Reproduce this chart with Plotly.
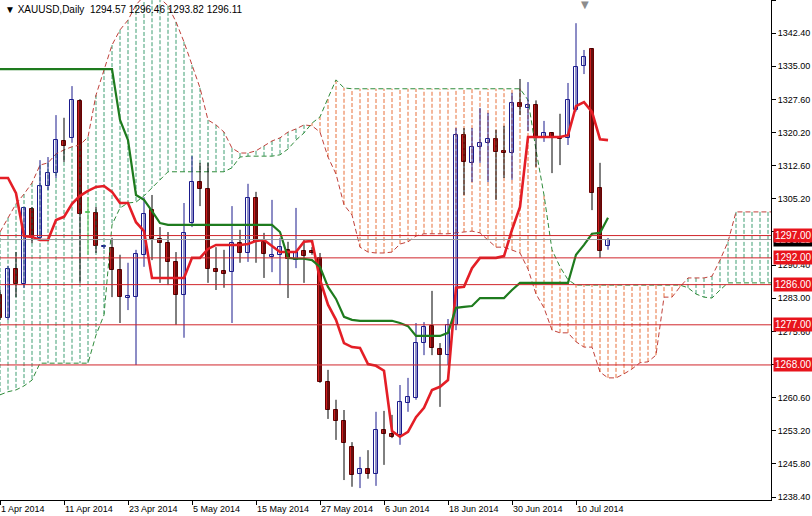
import plotly.graph_objects as go

# ---------------- data ----------------
date_labels = ["1 Apr 2014", "11 Apr 2014", "23 Apr 2014", "5 May 2014", "15 May 2014",
               "27 May 2014", "6 Jun 2014", "18 Jun 2014", "30 Jun 2014", "10 Jul 2014"]
date_bars = [0, 8, 16, 24, 32, 40, 48, 56, 64, 72]

opens = [1283.7, 1278.5, 1289.5, 1286.2, 1303.0, 1296.5, 1308.1, 1311.0, 1318.2, 1318.9,
         1327.2, 1302.1, 1302.1, 1294.4, 1294.2, 1289.3, 1283.1, 1283.2, 1292.7, 1302.7,
         1296.2, 1295.3, 1291.1, 1283.7, 1299.8, 1309.0, 1307.4, 1289.5, 1289.1, 1288.8,
         1295.3, 1293.1, 1305.4, 1295.6, 1292.3, 1292.7, 1293.8, 1291.5, 1293.6, 1293.6,
         1292.0, 1264.2, 1257.9, 1255.5, 1249.6, 1243.6, 1244.7, 1243.6, 1253.4, 1252.5,
         1252.3, 1259.5, 1260.6, 1272.9, 1276.7, 1271.6, 1270.2, 1277.0, 1319.5, 1313.3,
         1316.9, 1317.8, 1318.6, 1316.0, 1315.5, 1326.7, 1325.6, 1326.3, 1319.1, 1320.0,
         1319.2, 1318.9, 1325.2, 1335.0, 1338.8, 1307.7, 1294.57]
highs = [1284.8, 1290.2, 1293.3, 1303.4, 1303.4, 1313.9, 1314.6, 1324.0, 1323.4, 1330.5,
         1327.6, 1305.6, 1303.4, 1294.9, 1296.5, 1292.7, 1290.9, 1293.8, 1305.6, 1306.1,
         1298.9, 1297.8, 1293.3, 1304.3, 1314.8, 1313.3, 1313.3, 1294.4, 1293.8, 1303.6,
         1298.3, 1308.6, 1306.8, 1297.6, 1305.0, 1296.5, 1295.6, 1303.2, 1296.0, 1294.4,
         1293.1, 1266.9, 1260.2, 1257.9, 1250.7, 1247.4, 1248.9, 1257.5, 1257.7, 1256.8,
         1263.5, 1265.1, 1277.4, 1277.6, 1284.6, 1272.9, 1278.3, 1321.1, 1321.1, 1321.1,
         1325.6, 1324.5, 1320.7, 1321.6, 1329.0, 1332.1, 1331.4, 1327.3, 1322.7, 1320.2,
         1324.3, 1331.2, 1344.6, 1338.6, 1339.0, 1313.3, 1296.46]
lows = [1278.1, 1278.1, 1283.2, 1285.3, 1295.3, 1295.8, 1307.2, 1309.9, 1313.5, 1317.8,
        1286.4, 1292.7, 1293.1, 1294.0, 1283.2, 1277.4, 1280.3, 1268.0, 1290.0, 1291.5,
        1286.4, 1285.9, 1277.0, 1274.1, 1298.9, 1303.6, 1286.4, 1284.8, 1285.3, 1277.4,
        1290.9, 1291.1, 1290.9, 1287.5, 1288.8, 1285.9, 1283.0, 1289.7, 1286.4, 1292.7,
        1264.0, 1255.9, 1251.2, 1242.2, 1240.7, 1240.4, 1242.5, 1240.9, 1245.6, 1251.6,
        1250.1, 1257.5, 1260.2, 1270.2, 1270.2, 1258.6, 1268.0, 1275.8, 1306.1, 1309.0,
        1313.3, 1309.0, 1305.0, 1309.9, 1309.5, 1324.0, 1320.4, 1312.4, 1318.0, 1311.0,
        1312.8, 1317.3, 1324.8, 1333.2, 1302.7, 1292.0, 1293.82]
closes = [1278.5, 1289.5, 1286.2, 1303.2, 1296.7, 1308.1, 1311.0, 1318.4, 1317.1, 1327.4,
          1301.8, 1302.1, 1294.7, 1294.7, 1289.3, 1283.2, 1283.4, 1292.9, 1301.8, 1296.2,
          1295.3, 1291.1, 1283.7, 1297.6, 1309.0, 1307.4, 1289.5, 1288.8, 1288.4, 1295.3,
          1293.1, 1305.4, 1295.6, 1292.9, 1292.5, 1294.4, 1291.8, 1293.3, 1292.4, 1293.1,
          1264.2, 1257.9, 1255.5, 1250.5, 1243.4, 1244.7, 1243.6, 1253.4, 1252.5, 1251.9,
          1259.7, 1260.8, 1272.9, 1276.5, 1271.8, 1270.2, 1277.0, 1319.5, 1313.5, 1316.9,
          1317.8, 1318.6, 1315.7, 1315.5, 1326.7, 1325.8, 1326.3, 1319.1, 1320.0, 1319.1,
          1318.6, 1327.4, 1334.8, 1337.0, 1306.5, 1293.6, 1296.11]

tenkan = [1309.9, 1309.9, 1306.5, 1296.9, 1296.7, 1296.0, 1296.0, 1300.5, 1301.2, 1304.1,
          1305.9, 1307.0, 1307.9, 1308.1, 1306.8, 1304.3, 1304.3, 1300.0, 1298.0, 1287.5,
          1287.5, 1287.5, 1287.5, 1287.5, 1292.0, 1292.0, 1294.0, 1294.9, 1294.9, 1294.9,
          1294.9, 1295.1, 1295.8, 1296.0, 1294.7, 1293.3, 1293.3, 1293.3, 1295.6, 1295.8,
          1287.1, 1281.5, 1278.1, 1272.9, 1272.0, 1271.8, 1268.2, 1267.8, 1266.7, 1253.2,
          1251.9, 1253.0, 1256.3, 1258.4, 1262.4, 1263.1, 1264.6, 1285.3, 1285.5, 1289.7,
          1292.0, 1292.0, 1292.0, 1292.4, 1298.3, 1303.4, 1319.1, 1319.1, 1319.1, 1319.1,
          1319.1, 1319.5, 1326.0, 1326.9, 1324.7, 1318.6, 1318.4]
kijun = [1334.3, 1334.3, 1334.3, 1334.3, 1334.3, 1334.3, 1334.3, 1334.3, 1334.3, 1334.3,
         1334.3, 1334.3, 1334.3, 1334.3, 1334.3, 1322.9, 1318.4, 1306.1, 1305.0, 1302.5,
         1299.8, 1299.4, 1299.4, 1299.4, 1299.4, 1299.4, 1299.4, 1299.4, 1299.4, 1299.4,
         1299.4, 1299.4, 1299.4, 1299.4, 1299.4, 1297.8, 1292.0, 1291.8, 1291.8, 1291.5,
         1290.0, 1285.5, 1282.8, 1278.8, 1278.1, 1277.9, 1277.9, 1277.9, 1277.9, 1277.9,
         1277.4, 1276.7, 1274.5, 1274.5, 1274.5, 1274.5, 1275.2, 1280.8, 1281.0, 1281.2,
         1283.0, 1283.0, 1283.0, 1283.0, 1284.8, 1286.4, 1286.4, 1286.4, 1286.4, 1286.4,
         1286.4, 1286.4, 1292.7, 1294.9, 1297.4, 1297.6, 1301.0]

span_a = [1297.8, 1301.0, 1304.1, 1306.3, 1308.8, 1312.8, 1313.3, 1315.3, 1316.2, 1316.9,
          1317.3, 1319.1, 1328.5, 1334.1, 1339.7, 1343.1, 1345.3, 1348.7, 1350.7, 1351.1,
          1350.2, 1348.5, 1344.9, 1340.4, 1335.2, 1330.1, 1322.9, 1321.8, 1320.2, 1316.6,
          1315.5, 1315.5, 1316.0, 1317.1, 1318.2, 1318.9, 1320.2, 1320.9, 1321.8, 1321.6,
          1320.2, 1314.6, 1310.8, 1303.9, 1301.6, 1294.4, 1293.3, 1293.1, 1293.1, 1293.3,
          1295.1, 1295.6, 1296.9, 1297.4, 1297.4, 1297.4, 1297.4, 1297.6, 1297.8, 1298.0,
          1297.6, 1296.0, 1294.4, 1294.4, 1293.8, 1293.1, 1289.5, 1283.9, 1280.8, 1275.8,
          1275.2, 1275.2, 1273.2, 1272.0, 1272.0, 1266.4, 1265.1, 1265.1, 1266.0, 1267.1,
          1268.5, 1268.7, 1270.2, 1283.2, 1283.2, 1285.5, 1287.5, 1287.5, 1287.5, 1287.9,
          1291.5, 1295.6, 1302.3, 1302.3, 1302.3, 1302.3, 1302.3, 1302.3]
span_b = [1261.3, 1262.0, 1262.4, 1263.3, 1264.6, 1268.4, 1268.4, 1268.4, 1268.4, 1268.4,
          1268.4, 1268.4, 1274.7, 1279.2, 1299.4, 1303.2, 1304.3, 1304.5, 1305.9, 1307.7,
          1309.5, 1311.3, 1311.3, 1311.3, 1311.3, 1311.3, 1311.3, 1311.3, 1311.3, 1312.2,
          1314.6, 1314.8, 1314.8, 1314.8, 1314.8, 1315.1, 1316.4, 1318.4, 1320.0, 1322.2,
          1323.6, 1327.8, 1331.9, 1330.1, 1329.9, 1329.9, 1329.9, 1329.9, 1329.9, 1329.9,
          1329.9, 1329.9, 1329.9, 1329.9, 1329.9, 1329.9, 1329.9, 1329.9, 1329.9, 1329.9,
          1329.9, 1329.9, 1329.9, 1329.9, 1329.9, 1329.9, 1327.4, 1316.2, 1306.1, 1293.8,
          1290.0, 1287.1, 1285.9, 1285.9, 1285.9, 1285.9, 1285.9, 1285.9, 1285.9, 1285.9,
          1285.9, 1285.9, 1285.9, 1285.9, 1285.9, 1285.9, 1285.3, 1283.9, 1283.2, 1283.0,
          1284.8, 1286.4, 1286.4, 1286.4, 1286.4, 1286.4, 1286.4, 1286.4]

levels = [1297.0, 1292.0, 1286.0, 1277.0, 1268.0]
bid_price = 1296.11
header = "XAUUSD,Daily  1294.57 1296.46 1293.82 1296.11"

y_tickvals = [1238.40, 1245.83, 1253.25, 1260.68, 1268.11, 1275.53, 1282.96, 1290.39,
              1297.81, 1305.24, 1312.67, 1320.09, 1327.52, 1334.95, 1342.37, 1349.80]
y_ticktext = ["1238.40", "1245.80", "1253.20", "1260.60", "1268.00", "1275.60", "1283.00",
              "1290.40", "1297.80", "1305.20", "1312.60", "1320.20", "1327.60", "1335.00",
              "1342.40", "1349.80"]

# ---------------- styling ----------------
FONT = "Liberation Sans, Arial, DejaVu Sans, sans-serif"
C_TENKAN = "#E41E26"
C_KIJUN = "#1E7B1E"
C_SPAN_A = "#C0403A"
C_SPAN_B = "#2E8B3A"
C_HATCH_UP = "#3E9E72"
C_HATCH_DN = "#E8703A"
C_LEVEL = "#D0252B"
C_BULL = "#1A1A8C"
C_BEAR_FILL = "#CC1F1F"
C_BEAR_LINE = "#6B0000"
C_DOJI = "#5CC85C"

fig = go.Figure()

# ---- cloud hatching (vertical dashed lines at every bar) ----
hx_up, hy_up, hx_dn, hy_dn = [], [], [], []
for i, (a, b) in enumerate(zip(span_a, span_b)):
    if a >= b:
        hx_up += [i, i, None]
        hy_up += [a, b, None]
    else:
        hx_dn += [i, i, None]
        hy_dn += [a, b, None]
fig.add_trace(go.Scatter(x=hx_up, y=hy_up, mode="lines", hoverinfo="skip",
                         line=dict(color=C_HATCH_UP, width=1, dash="4px,2px")))
fig.add_trace(go.Scatter(x=hx_dn, y=hy_dn, mode="lines", hoverinfo="skip",
                         line=dict(color=C_HATCH_DN, width=1, dash="4px,2px")))

xs_span = list(range(len(span_a)))
fig.add_trace(go.Scatter(x=xs_span, y=span_a, mode="lines", hoverinfo="skip",
                         line=dict(color=C_SPAN_A, width=1, dash="5px,3px")))
fig.add_trace(go.Scatter(x=xs_span, y=span_b, mode="lines", hoverinfo="skip",
                         line=dict(color=C_SPAN_B, width=1, dash="5px,3px")))

# ---- candles: wicks ----
wx = {"bull": [], "bear": [], "doji": []}
wy = {"bull": [], "bear": [], "doji": []}
bodies = {"bull": ([], [], []), "bear": ([], [], []), "doji": ([], [], [])}
for i, (o, h, l, c) in enumerate(zip(opens, highs, lows, closes)):
    kind = "bull" if c > o else ("bear" if c < o else "doji")
    wx[kind] += [i, i, None]
    wy[kind] += [l, h, None]
    bx, bbase, bh = bodies[kind]
    bx.append(i)
    bbase.append(min(o, c))
    bh.append(max(abs(c - o), 0.25))

wick_col = {"bull": C_BULL, "bear": "#000000", "doji": C_DOJI}
for k in ["bull", "bear", "doji"]:
    fig.add_trace(go.Scatter(x=wx[k], y=wy[k], mode="lines", hoverinfo="skip",
                             line=dict(color=wick_col[k], width=1)))

body_style = {"bull": ("#FFFFFF", C_BULL), "bear": (C_BEAR_FILL, C_BEAR_LINE),
              "doji": (C_DOJI, C_DOJI)}
for k in ["bull", "bear", "doji"]:
    bx, bbase, bh = bodies[k]
    fill, edge = body_style[k]
    fig.add_trace(go.Bar(x=bx, y=bh, base=bbase, width=0.6, hoverinfo="skip",
                         marker=dict(color=fill, line=dict(color=edge, width=1))))

# ---- Tenkan / Kijun ----
xs_ind = list(range(len(tenkan)))
fig.add_trace(go.Scatter(x=xs_ind, y=tenkan, mode="lines", hoverinfo="skip",
                         line=dict(color=C_TENKAN, width=2.6)))
fig.add_trace(go.Scatter(x=xs_ind, y=kijun, mode="lines", hoverinfo="skip",
                         line=dict(color=C_KIJUN, width=2.2)))

# ---- horizontal levels & bid line ----
fig.add_hline(y=bid_price, line=dict(color="#9A9A9A", width=1), layer="above")
for lv in levels:
    fig.add_hline(y=lv, line=dict(color=C_LEVEL, width=1), layer="above")

annotations = []
annotations.append(dict(xref="paper", yref="y", x=1, y=bid_price, xanchor="left",
                        yanchor="middle", xshift=2, text=f"{bid_price:.2f}", showarrow=False,
                        bgcolor="#000000", font=dict(color="white", size=10, family=FONT),
                        borderpad=1))
for lv in levels:
    annotations.append(dict(xref="paper", yref="y", x=1, y=lv, xanchor="left",
                            yanchor="middle", xshift=2, text=f"{lv:.2f}", showarrow=False,
                            bgcolor="#E8141C", font=dict(color="white", size=10, family=FONT),
                            borderpad=1))
annotations.append(dict(xref="paper", yref="paper", x=0, y=1, xanchor="left", yanchor="top",
                        xshift=3, yshift=-2, text="\u25BC " + header, showarrow=False,
                        font=dict(color="#000000", size=10, family=FONT)))
annotations.append(dict(xref="paper", yref="paper", x=585 / 771, y=1, xanchor="center",
                        yanchor="top", yshift=3, text="\u25BC", showarrow=False,
                        font=dict(color="#8C8C8C", size=10, family="DejaVu Sans")))

fig.update_layout(
    width=812, height=516,
    margin=dict(l=0, r=41, t=0, b=16),
    paper_bgcolor="white", plot_bgcolor="white",
    showlegend=False, barmode="overlay", bargap=0,
    annotations=annotations,
    xaxis=dict(range=[0, 96.375], showgrid=False, zeroline=False,
               showline=True, linecolor="black", linewidth=1,
               ticks="outside", ticklen=4, tickcolor="black",
               tickvals=date_bars, ticktext=date_labels,
               ticklabelposition="outside right",
               tickfont=dict(size=9, family=FONT, color="black")),
    yaxis=dict(side="right", range=[1237.73, 1349.8], showgrid=False, zeroline=False,
               showline=True, linecolor="black", linewidth=1,
               ticks="outside", ticklen=4, tickcolor="black",
               tickvals=y_tickvals, ticktext=y_ticktext,
               tickfont=dict(size=9, family=FONT, color="black")),
)

fig.write_html("out.html", config={"displayModeBar": False},
               post_script="document.body.style.margin='0';document.body.style.overflow='hidden';")
